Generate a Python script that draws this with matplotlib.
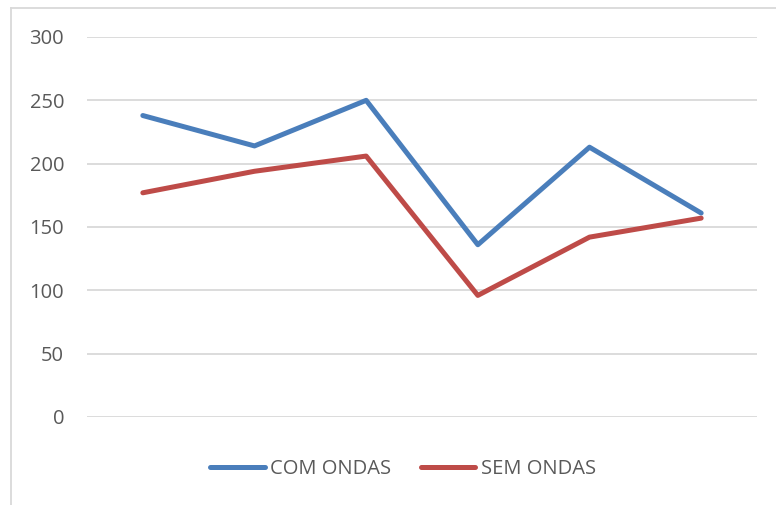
import matplotlib.pyplot as plt
from matplotlib.lines import Line2D

categories = [1, 2, 3, 4, 5, 6]
com_ondas = [238, 214, 250, 136, 213, 161]
sem_ondas = [177, 194, 206, 96, 142, 157]
y_ticks = [0, 50, 100, 150, 200, 250, 300]

plt.rcParams["font.family"] = ["Open Sans", "DejaVu Sans"]

fig = plt.figure(figsize=(7.76, 5.05), dpi=100)
ax = fig.add_axes([87 / 776, 1 - 417 / 505, 670 / 776, 380 / 505])

x = list(range(len(categories)))
ax.plot(x, com_ondas, color="#4a7ebb", lw=3.6, solid_capstyle="round", label="COM ONDAS")
ax.plot(x, sem_ondas, color="#be4b48", lw=3.6, solid_capstyle="round", label="SEM ONDAS")

ax.set_xlim(-0.5, len(categories) - 0.5)
ax.set_ylim(0, 300)
ax.set_yticks(y_ticks)
ax.set_xticks([])
ax.yaxis.grid(True, color="#d9d9d9", lw=1.3)
ax.set_axisbelow(True)
for s in ax.spines.values():
    s.set_visible(False)
ax.tick_params(axis="y", length=0, pad=16.5, labelsize=14.5, labelcolor="#595959")

# outer chart frame (top and left visible)
fig.add_artist(Line2D([11 / 776, 1], [1 - 8 / 505] * 2, color="#d9d9d9", lw=1.3))
fig.add_artist(Line2D([11 / 776] * 2, [0, 1 - 8 / 505], color="#d9d9d9", lw=1.3))

leg = fig.legend(loc="center", bbox_to_anchor=(403 / 776, 1 - 469 / 505), ncol=2,
                 frameon=False, fontsize=14.5, handlelength=2.7, handletextpad=0.25,
                 columnspacing=1.5)
for t in leg.get_texts():
    t.set_color("#595959")

fig.savefig("out.png", dpi=100)
